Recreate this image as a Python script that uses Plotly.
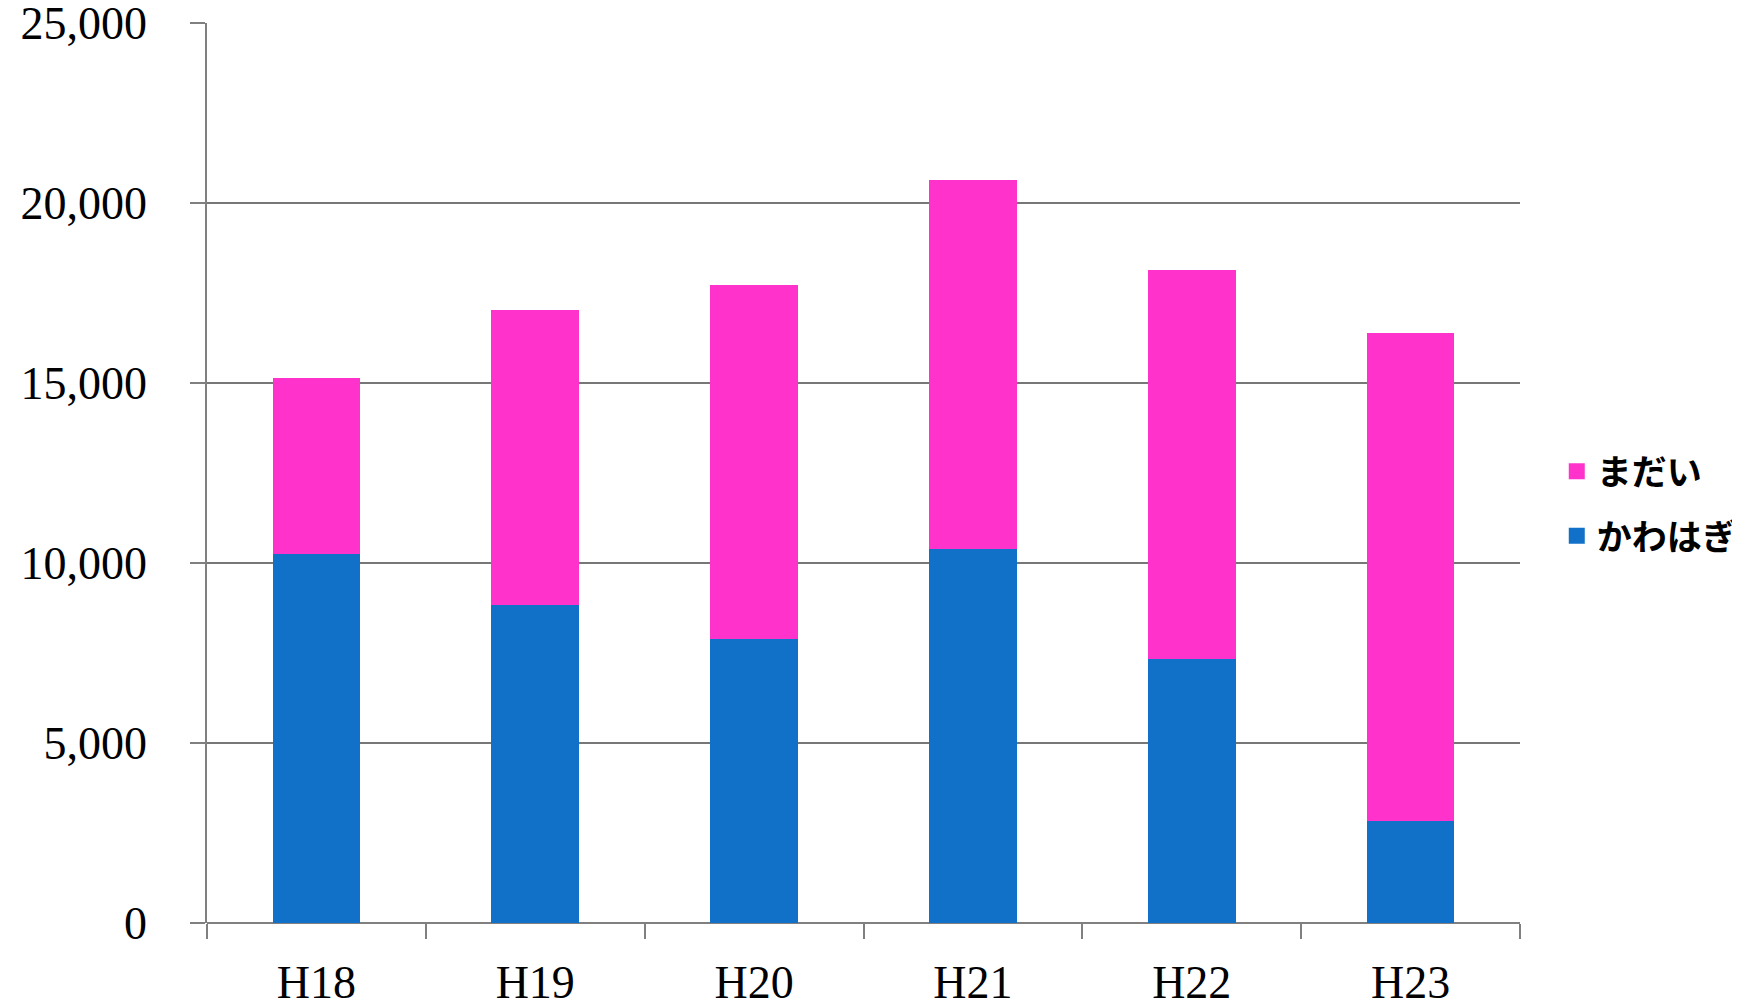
import plotly.graph_objects as go

categories = ["H18", "H19", "H20", "H21", "H22", "H23"]
kawahagi = [10260, 8830, 7890, 10390, 7320, 2830]
madai = [4880, 8210, 9820, 10240, 10830, 13570]
series_names = ["かわはぎ", "まだい"]
colors = ["#1170C7", "#FF33CC"]
y_tickvals = [0, 5000, 10000, 15000, 20000, 25000]
y_ticktext = ["0", "5,000", "10,000", "15,000", "20,000", "25,000"]

fig = go.Figure()
# legend entries (top to bottom: まだい, かわはぎ)
for name, col in zip(series_names[::-1], colors[::-1]):
    fig.add_trace(go.Scatter(x=[None], y=[None], mode="markers", name=name, legendgroup=name,
                             marker=dict(symbol="square", size=16, color=col)))
for name, vals, col in zip(series_names, [kawahagi, madai], colors):
    fig.add_trace(go.Bar(x=categories, y=vals, name=name, marker=dict(color=col, line=dict(width=0)),
                         showlegend=False, legendgroup=name))

fig.update_layout(
    width=1740, height=1008,
    barmode="stack", bargap=0.6,
    plot_bgcolor="white", paper_bgcolor="white",
    margin=dict(l=199, r=228, t=15, b=93, autoexpand=False),
    font=dict(family="Liberation Serif", color="black"),
    legend=dict(x=1.028, xanchor="left", y=0.466, yanchor="middle", traceorder="grouped",
                font=dict(family="Noto Sans CJK JP", size=35, color="black", weight="bold"),
                itemwidth=30, tracegroupgap=16, bgcolor="rgba(0,0,0,0)"),
    xaxis=dict(type="category", categoryorder="array", categoryarray=categories,
               tickfont=dict(size=46), showline=False, tickson="boundaries", ticks="outside",
               ticklen=15, tickwidth=1.5, tickcolor="#808080", showgrid=False, ticklabelstandoff=28,
               automargin=False),
    yaxis=dict(range=[0, 25000], tickvals=y_tickvals, ticktext=y_ticktext, tickfont=dict(size=46),
               showline=True, linecolor="#808080", linewidth=1.5, ticks="outside", ticklen=15,
               tickwidth=1.5, tickcolor="#808080", showgrid=True, gridcolor="#777777", gridwidth=1.8,
               zeroline=True, zerolinecolor="#808080", zerolinewidth=1.8, ticklabelstandoff=34,
               automargin=False, ticklabeloverflow="allow"),
)

fig.write_html("out.html")
